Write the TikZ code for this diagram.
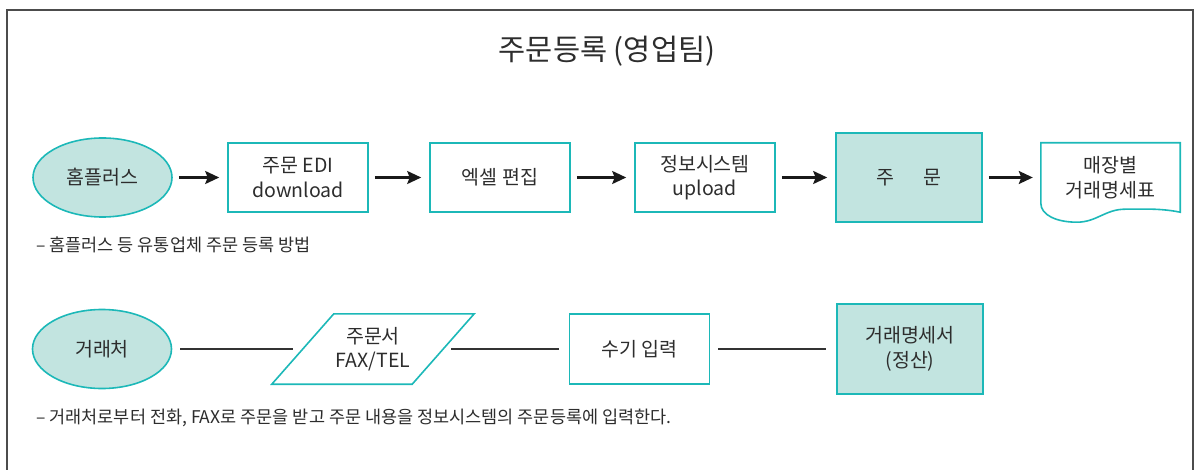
\documentclass[tikz,border=0pt]{standalone}
\usepackage{fontspec}
\setmainfont{Noto Sans CJK KR}
\usetikzlibrary{shapes.geometric,arrows.meta}
\definecolor{teal1}{RGB}{28,184,184}
\definecolor{tfill}{RGB}{194,228,224}
\definecolor{txt}{RGB}{45,45,45}
\begin{document}
\begin{tikzpicture}[x=1pt,y=-1pt,
  every node/.style={text=txt, font=\fontsize{19.5}{24.5}\selectfont, align=center, inner sep=0pt},
  oval/.style={ellipse, draw=teal1, fill=tfill, line width=1.6pt, minimum width=139pt, minimum height=79pt},
  pbox/.style={rectangle, draw=teal1, line width=1.6pt, minimum width=140pt, minimum height=69pt},
  fbox/.style={pbox, fill=tfill, minimum width=146pt, minimum height=89pt},
  ghost/.style={rectangle, minimum width=140pt, minimum height=70pt},
  shapeline/.style={draw=teal1, line width=1.6pt},
  arr/.style={-{Stealth[length=14pt,width=13pt,inset=2.5pt]}, line width=2.2pt, draw=black!90, shorten <=6pt, shorten >=8pt},
  link/.style={line width=2pt, draw=black!80, shorten <=8pt, shorten >=10pt},
  note/.style={anchor=west, font=\fontsize{17.5}{21}\selectfont},
  frame/.style={line width=1.5pt, draw=black!70}
]
\useasboundingbox (0,0) rectangle (1199,470);
\draw[frame] (7,470) -- (7,10) -- (1193,10) -- (1193,470);

\node (title) at (607,51) {\fontsize{29.5}{34}\selectfont 주문등록 (영업팀)};

% row 1
\node[oval] (e1) at (102.5,177.5) {홈플러스};
\node[pbox] (b1) at (298,177.5) {주문 EDI\\download};
\node[pbox] (b2) at (500,177.5) {엑셀 편집};
\node[pbox] (b3) at (705,177.5) {정보시스템\\upload};
\node[fbox] (b4) at (909,177.5) {주\hspace{1.45em}문};
\node[ghost, minimum width=139pt, minimum height=69pt] (doc) at (1110.5,177.5) {매장별\\거래명세표};
\draw[shapeline] (doc.north west) -- (doc.north east) -- (doc.south east)
  .. controls +(-20,-4) and +(20,0) .. ([xshift=-55pt,yshift=3pt]doc.south east)
  .. controls +(-20,0) and +(20,0) .. ([xshift=36pt,yshift=-10pt]doc.south west)
  .. controls +(-20,0) and +(0,12) .. ([yshift=9pt]doc.south west) -- cycle;

\draw[arr] (e1) -- (b1);
\draw[arr] (b1) -- (b2);
\draw[arr] (b2) -- (b3);
\draw[arr] (b3) -- (b4);
\draw[arr] (b4) -- (doc);

\node[note] (n1) at (36,245) {– 홈플러스 등 유통업체 주문 등록 방법};

% row 2
\node[oval] (e2) at (102,349) {거래처};
\node[ghost] (para) at (373,349) {주문서\\FAX/TEL};
\draw[shapeline] ([xshift=31pt]para.north west) -- ([xshift=31pt]para.north east)
  -- ([xshift=-31pt]para.south east) -- ([xshift=-31pt]para.south west) -- cycle;
\node[pbox, minimum height=70pt] (b5) at (639.5,349) {수기 입력};
\node[fbox, minimum height=90pt] (b6) at (910,349) {거래명세서\\(정산)};

\draw[link] (e2) -- (para);
\draw[link] (para) -- (b5);
\draw[link] (b5) -- (b6);

\node[note] (n2) at (36,418) {– 거래처로부터 전화, FAX로 주문을 받고 주문 내용을 정보시스템의 주문등록에 입력한다.};
\end{tikzpicture}
\end{document}
